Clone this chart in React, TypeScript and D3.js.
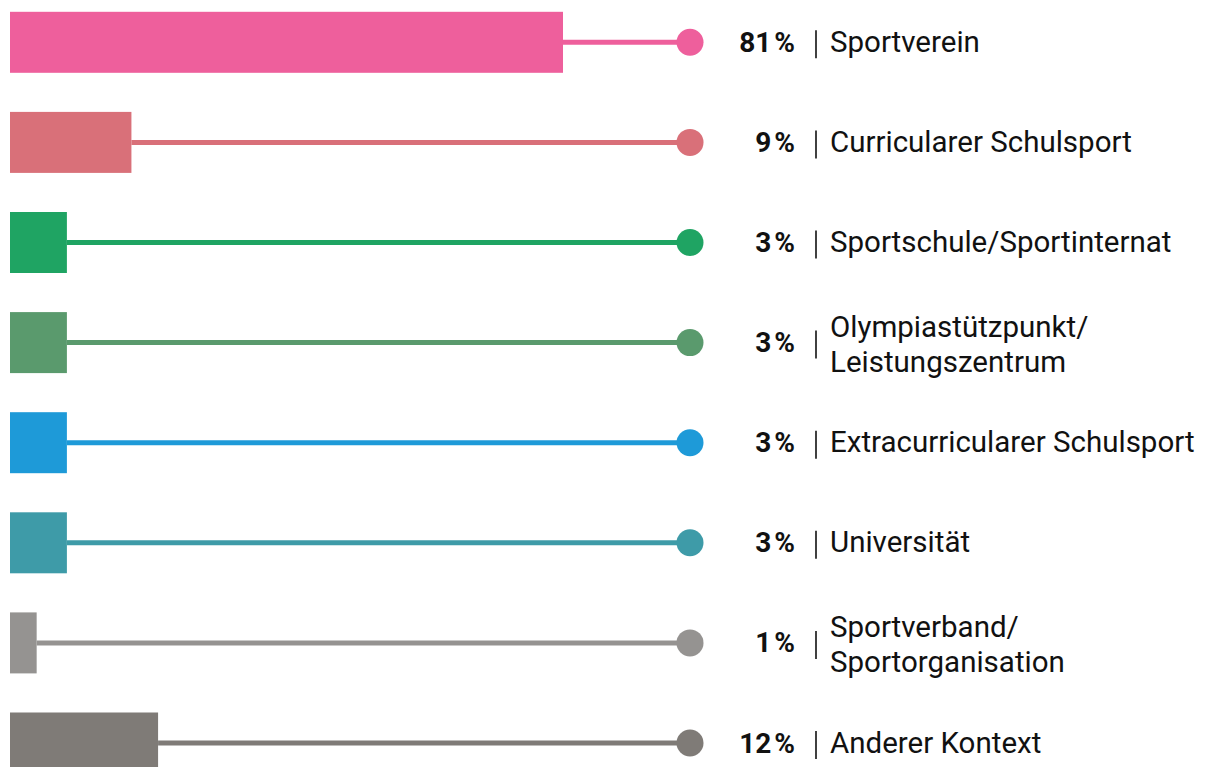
import React from "react";
import * as d3 from "d3";

// categories, labels and values
const categories = [
  "Sportverein",
  "Curricularer Schulsport",
  "Sportschule/Sportinternat",
  "Olympiastützpunkt/Leistungszentrum",
  "Extracurricularer Schulsport",
  "Universität",
  "Sportverband/Sportorganisation",
  "Anderer Kontext",
];
const labelLines = [
  ["Sportverein"],
  ["Curricularer Schulsport"],
  ["Sportschule/Sportinternat"],
  ["Olympiastützpunkt/", "Leistungszentrum"],
  ["Extracurricularer Schulsport"],
  ["Universität"],
  ["Sportverband/", "Sportorganisation"],
  ["Anderer Kontext"],
];
const values = [81, 9, 3, 3, 3, 3, 1, 12];
const colors = [
  "#ee5f9c",
  "#d97079",
  "#1fa463",
  "#5a9a6d",
  "#1e9ad8",
  "#3e9ba8",
  "#959391",
  "#7f7b77",
];

const W = 1208;
const H = 767;
const left = 10;
const dotX = 690;
const barH = 61;

export default function App() {
  // bar lengths are compressed in the original, a power scale approximates it
  const x = d3.scalePow().exponent(0.69).domain([0, 81]).range([0, 553]);
  const y = d3.scalePoint<string>().domain(categories).range([42.3, 743]);
  const font = "Roboto, 'Noto Sans', sans-serif";

  return (
    <svg
      width={W}
      height={H}
      style={{ position: "absolute", left: 0, top: 0, background: "#fff" }}
    >
      {categories.map((c, i) => {
        const cy = y(c) as number;
        const w = x(values[i]);
        const lines = labelLines[i];
        return (
          <g key={c}>
            <line
              x1={left + w}
              x2={dotX}
              y1={cy}
              y2={cy}
              stroke={colors[i]}
              strokeWidth={5}
            />
            <rect x={left} y={cy - barH / 2} width={w} height={barH} fill={colors[i]} />
            <circle cx={dotX} cy={cy} r={13.5} fill={colors[i]} />
            <text
              x={795}
              y={cy + 9.5}
              textAnchor="end"
              fontFamily={font}
              fontWeight="bold"
              fontSize={28}
              fill="#111"
            >
              <tspan>{values[i]}</tspan>
              <tspan dx={3}>%</tspan>
            </text>
            <line x1={816} x2={816} y1={cy - 12} y2={cy + 16} stroke="#111" strokeWidth={1.6} />
            {lines.length === 1 ? (
              <text x={830} y={cy + 9.5} fontFamily={font} fontSize={29.5} fill="#111">
                {lines[0]}
              </text>
            ) : (
              lines.map((l, k) => (
                <text
                  key={k}
                  x={830}
                  y={cy - 6 + k * 35}
                  fontFamily={font}
                  fontSize={29.5}
                  fill="#111"
                >
                  {l}
                </text>
              ))
            )}
          </g>
        );
      })}
    </svg>
  );
}
